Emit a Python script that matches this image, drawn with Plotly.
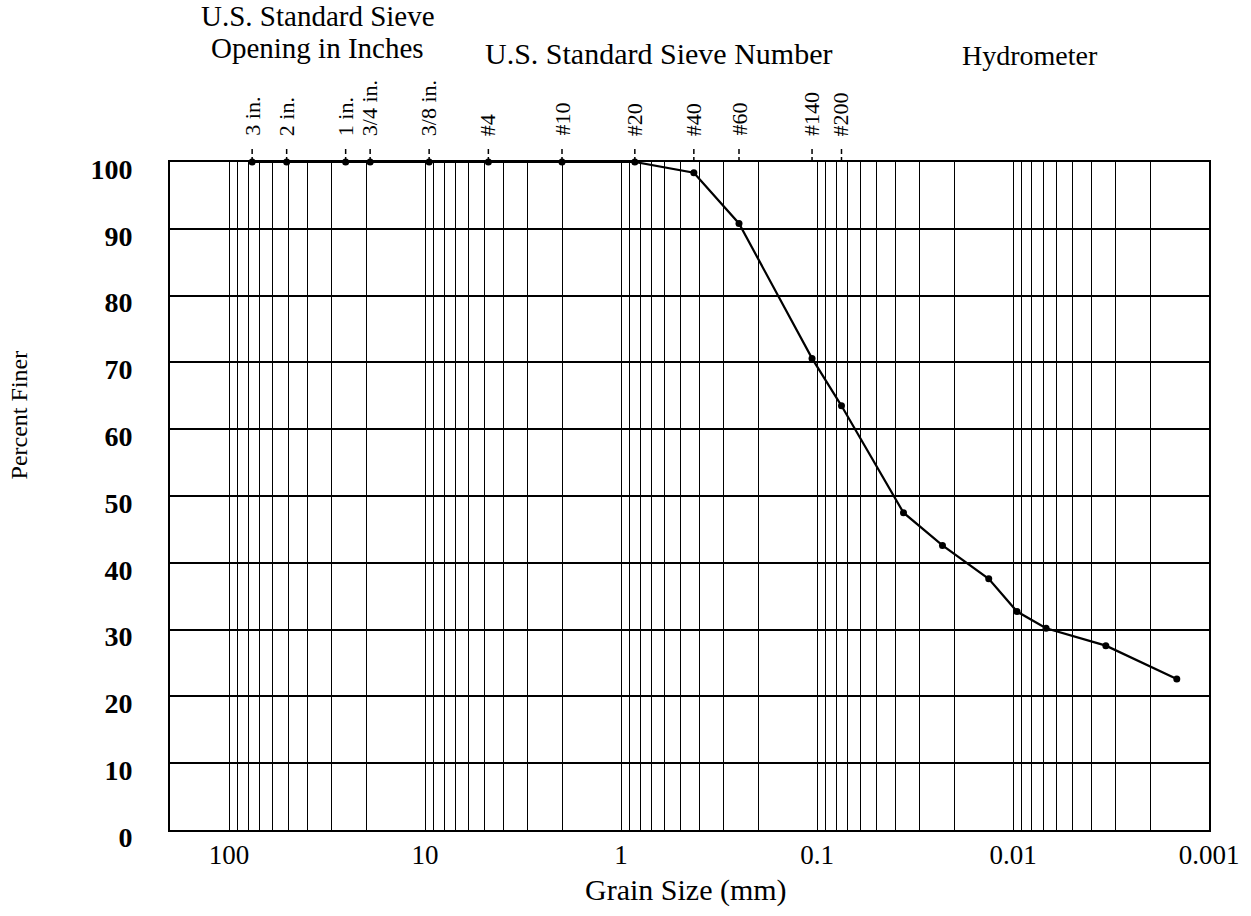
import math
import plotly.graph_objects as go

# ---- data ----
sieve_labels = ["3 in.", "2 in.", "1 in.", "3/4 in.", "3/8 in.", "#4", "#10",
                "#20", "#40", "#60", "#140", "#200"]
sieve_mm = [76.2, 50.8, 25.4, 19.05, 9.525, 4.75, 2.0, 0.85, 0.425, 0.25, 0.106, 0.075]
sieve_pf = [100, 100, 100, 100, 100, 100, 100, 100, 98.4, 90.8, 70.6, 63.5]

hydro_mm = [0.0362, 0.0229, 0.0133, 0.00954, 0.00678, 0.00336, 0.00146]
hydro_pf = [47.5, 42.6, 37.6, 32.7, 30.2, 27.6, 22.6]

x_tickvals = [100, 10, 1, 0.1, 0.01, 0.001]
x_ticktext = ["100", "10", "1", "0.1", "0.01", "0.001"]
y_tickvals = [0, 10, 20, 30, 40, 50, 60, 70, 80, 90, 100]

x_min, x_max = 0.001, 200

# ---- geometry ----
W, H = 1251, 916
PL, PR, PT, PB = 170, 1212, 162, 830   # plot area in page pixels
L, T, R, B = PL, PT, W - PR, H - PB
ph = PB - PT
pw = PR - PL


def py(ypx):
    return (PB - ypx) / ph


def px(xpx):
    return (xpx - PL) / pw


FONT = "Liberation Serif, Times New Roman, serif"

# minor vertical gridlines (2..9 within each decade)
minor_vals = []
for e in range(-3, 3):
    for m in range(2, 10):
        v = m * 10 ** e
        if x_min < v < x_max:
            minor_vals.append(v)

grain = sieve_mm + hydro_mm
finer = sieve_pf + hydro_pf

fig = go.Figure()
fig.add_trace(go.Scatter(
    x=grain, y=finer, mode="lines+markers",
    line=dict(color="black", width=2.2),
    marker=dict(color="black", size=7),
    cliponaxis=False, showlegend=False,
))

shapes = []
annotations = []
for lab, d in zip(sieve_labels, sieve_mm):
    shapes.append(dict(type="line", xref="x", yref="paper",
                       x0=d, x1=d, y0=1.0, y1=py(146),
                       line=dict(color="black", width=1.5, dash="5px,3px")))
    annotations.append(dict(text=lab, textangle=-90, xref="x", yref="paper",
                            x=math.log10(d), y=py(137), xanchor="center", yanchor="bottom",
                            showarrow=False, borderpad=0,
                            font=dict(family=FONT, size=22, color="black")))

hdr = dict(family=FONT, size=30, color="black")
annotations += [
    dict(text="U.S. Standard Sieve", xref="paper", yref="paper", x=px(318), y=py(16),
         xanchor="center", yanchor="middle", showarrow=False, borderpad=0,
         font=dict(family=FONT, size=29, color="black")),
    dict(text="Opening in Inches", xref="paper", yref="paper", x=px(318), y=py(48),
         xanchor="center", yanchor="middle", showarrow=False, borderpad=0,
         font=dict(family=FONT, size=29, color="black")),
    dict(text="U.S. Standard Sieve Number", xref="paper", yref="paper", x=px(660), y=py(54),
         xanchor="center", yanchor="middle", showarrow=False, borderpad=0, font=hdr),
    dict(text="Hydrometer", xref="paper", yref="paper", x=px(1032), y=py(56),
         xanchor="center", yanchor="middle", showarrow=False, borderpad=0,
         font=dict(family=FONT, size=28, color="black")),
    dict(text="Grain Size (mm)", xref="paper", yref="paper", x=px(687), y=py(890),
         xanchor="center", yanchor="middle", showarrow=False, borderpad=0, font=hdr),
    dict(text="Percent Finer", xref="paper", yref="paper", x=px(19), y=py(415), textangle=-90,
         xanchor="center", yanchor="middle", showarrow=False, borderpad=0,
         font=dict(family=FONT, size=24, color="black")),
]

fig.update_layout(
    width=W, height=H,
    margin=dict(l=L, r=R, t=T, b=B, pad=0),
    paper_bgcolor="white", plot_bgcolor="white",
    shapes=shapes, annotations=annotations,
    xaxis=dict(
        type="log", range=[math.log10(x_max), math.log10(x_min)],
        tickvals=x_tickvals, ticktext=x_ticktext, ticks="",
        tickfont=dict(family=FONT, size=27, color="black"),
        ticklabelstandoff=0,
        showgrid=True, gridcolor="black", gridwidth=1,
        minor=dict(tickvals=minor_vals, showgrid=True, gridcolor="black", gridwidth=1, ticks=""),
        showline=True, linecolor="black", linewidth=2, mirror=True,
        zeroline=False,
    ),
    yaxis=dict(
        range=[0, 100], tickvals=y_tickvals, ticks="",
        tickfont=dict(family=FONT, size=28, color="black", weight="bold"),
        ticklabelstandoff=30, ticklabelshift=7,
        showgrid=True, gridcolor="black", gridwidth=2,
        showline=True, linecolor="black", linewidth=2, mirror=True,
        zeroline=False,
    ),
)

fig.write_html(
    "out.html",
    config={"displayModeBar": False},
    post_script="document.body.style.margin='0';document.body.style.overflow='hidden';",
)
